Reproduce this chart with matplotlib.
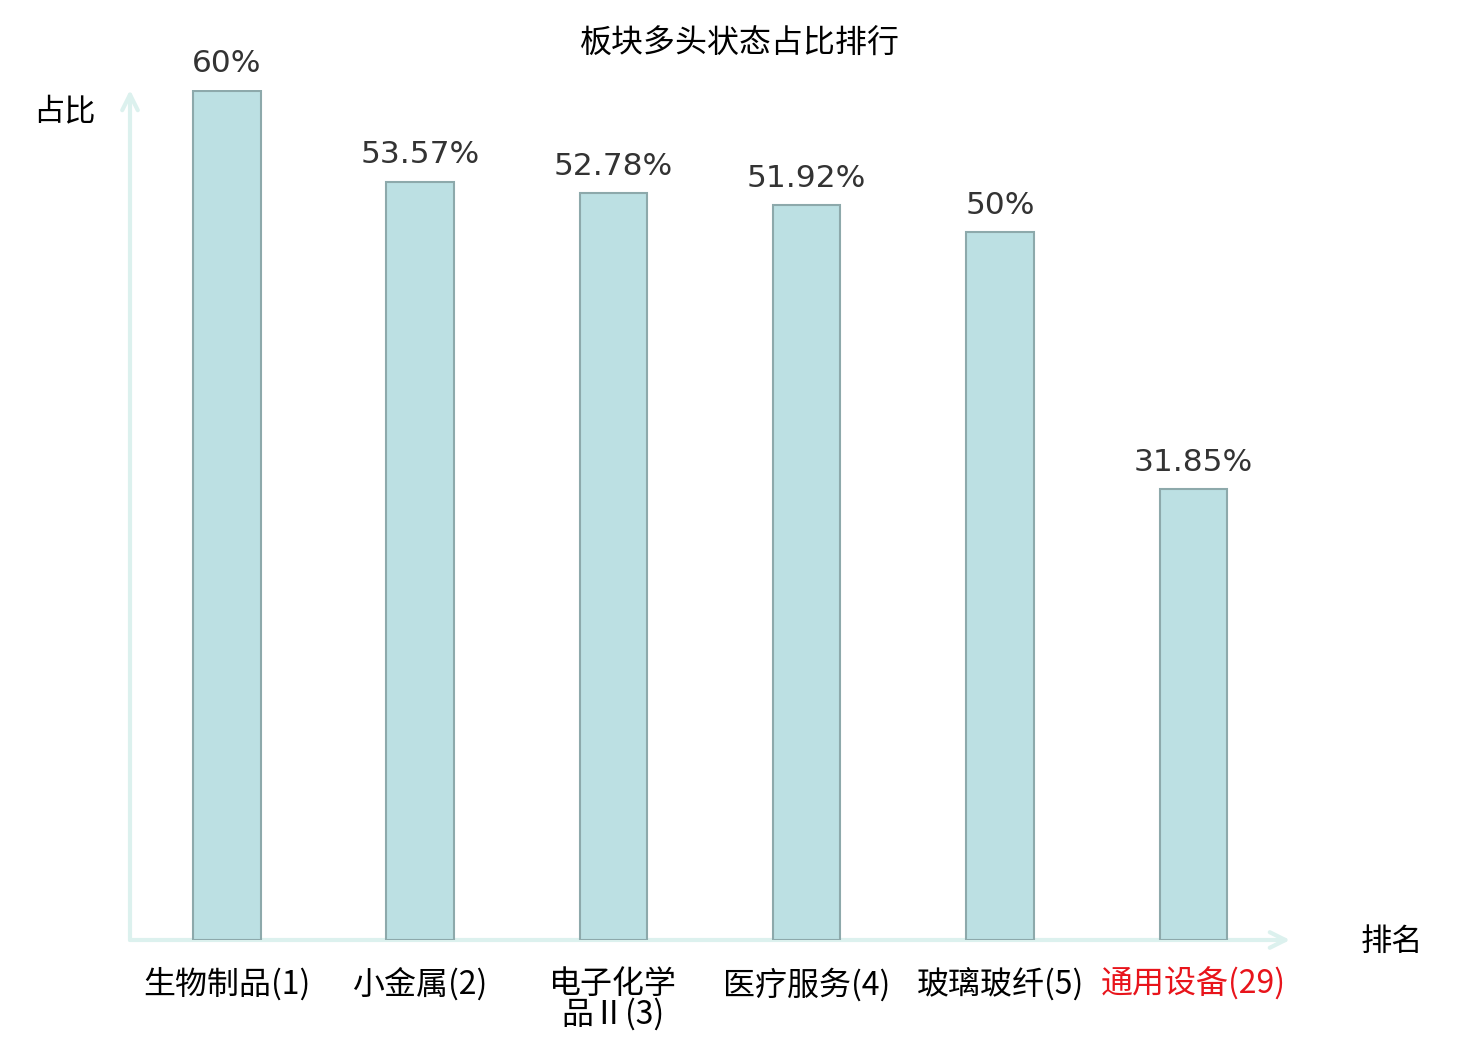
import matplotlib
matplotlib.use("Agg")
import matplotlib.pyplot as plt

plt.rcParams['font.family'] = ['Noto Sans CJK SC', 'DejaVu Sans']

categories = ["生物制品(1)", "小金属(2)", "电子化学\n品Ⅱ(3)", "医疗服务(4)", "玻璃玻纤(5)", "通用设备(29)"]
values = [60, 53.57, 52.78, 51.92, 50, 31.85]
value_labels = ["60%", "53.57%", "52.78%", "51.92%", "50%", "31.85%"]
label_colors = ["black", "black", "black", "black", "black", "#e8141b"]

W, H = 1480, 1040
fig = plt.figure(figsize=(W / 100, H / 100), dpi=100)
ax = fig.add_axes([130 / W, (H - 940) / H, (1290 - 130) / W, (940 - 90) / H])

x = list(range(len(categories)))
bars = ax.bar(x, values, width=0.35, color="#bce0e3", edgecolor="#8da9ab", linewidth=1.5, zorder=2)
ax.set_xlim(-0.5, 5.5)
ax.set_ylim(0, 60.07)

for xi, v, lab in zip(x, values, value_labels):
    ax.annotate(lab, (xi, v), xytext=(0, 9), textcoords="offset points",
                ha="center", va="bottom", fontsize=22.5, color="#333333",
                family="DejaVu Sans")

for s in ax.spines.values():
    s.set_visible(False)
ax.set_yticks([])
ax.set_xticks(x)
ax.set_xticklabels(categories, fontsize=23, linespacing=0.92)
for t, c in zip(ax.get_xticklabels(), label_colors):
    t.set_color(c)
ax.tick_params(axis="x", length=0, pad=20)

axis_col = "#dcf1ee"
ax.annotate("", xy=(1.0, 0), xytext=(0, 0), xycoords="axes fraction",
            arrowprops=dict(arrowstyle="->", color=axis_col, lw=3, mutation_scale=28,
                            shrinkA=0, shrinkB=0), zorder=1, annotation_clip=False)
ax.annotate("", xy=(0, 1.0), xytext=(0, 0), xycoords="axes fraction",
            arrowprops=dict(arrowstyle="->", color=axis_col, lw=3, mutation_scale=28,
                            shrinkA=0, shrinkB=0), zorder=1, annotation_clip=False)

fig.text(740 / W, 1 - 44 / H, "板块多头状态占比排行", ha="center", va="center", fontsize=23)
fig.text(64 / W, 1 - 111 / H, "占比", ha="center", va="center", fontsize=22.5)
fig.text(1392 / W, 1 - 942 / H, "排名", ha="center", va="center", fontsize=22.5)

fig.savefig("out.png", dpi=100)
